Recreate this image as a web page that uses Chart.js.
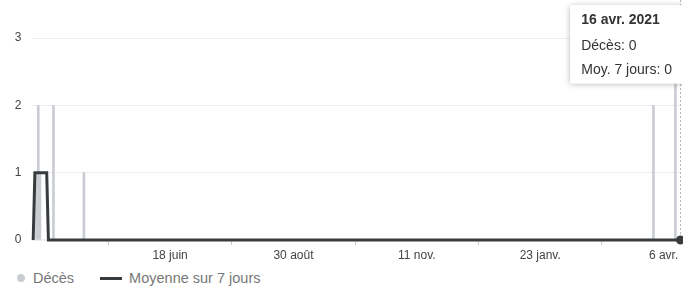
<!DOCTYPE html>
<html lang="fr">
<head>
<meta charset="utf-8">
<script src="https://cdn.jsdelivr.net/npm/chart.js@4.4.1/dist/chart.umd.min.js"></script>
<style>
  body { margin: 0; background: #fff; font-family: "Liberation Sans", Arial, sans-serif; }
  #wrap { position: relative; width: 683px; height: 287px; overflow: hidden; }
  canvas { position: absolute; left: 0; top: 0; }
  #legend { position: absolute; left: 17px; top: 270px; display: flex; align-items: center; font-size: 14.5px; color: #777; white-space: nowrap; }
  #legend .dot { display: inline-block; width: 8px; height: 8px; border-radius: 50%; margin-right: 8px; }
  #legend .bar { display: inline-block; width: 22px; height: 3px; margin-right: 7px; }
  #legend .item { display: flex; align-items: center; margin-right: 26px; }
</style>
</head>
<body>
<div id="wrap">
  <canvas id="myChart" width="683" height="268"></canvas>
  <div id="legend"></div>
</div>
<script>
// jour 0 = 29 mars 2020
const startDate = [2020, 2, 29]
const lastDay = 383
const hoverDay = 383

// décès quotidiens (jours non listés = 0)
const deathDays = [2, 3, 4, 12, 30, 367, 380]
const deathCounts = [1, 2, 1, 2, 1, 2, 3]

// moyenne sur 7 jours (jours non listés = 0)
const avgDays = [1, 2, 3, 4, 5, 6, 7, 8]
const avgValues = [1, 1, 1, 1, 1, 1, 1, 1]

const tickDays = [81, 154, 227, 300, 373]
const tickLabels = ['18 juin', '30 août', '11 nov.', '23 janv.', '6 avr.']
const monthNames = ['janv.', 'févr.', 'mars', 'avr.', 'mai', 'juin', 'juil.', 'août', 'sept.', 'oct.', 'nov.', 'déc.']

const barColor = '#c9cdd2'
const lineColor = '#383b3e'

const deaths = []
const avg = []
for (let d = 0; d <= lastDay; d++) {
  const i = deathDays.indexOf(d)
  const j = avgDays.indexOf(d)
  deaths.push({ x: d, y: i >= 0 ? deathCounts[i] : 0 })
  avg.push({ x: d, y: j >= 0 ? avgValues[j] : 0 })
}

function dayLabel(d) {
  const dt = new Date(startDate[0], startDate[1], startDate[2] + d)
  return dt.getDate() + ' ' + monthNames[dt.getMonth()] + ' ' + dt.getFullYear()
}

Chart.Tooltip.positioners.topRight = function (items) {
  if (!items.length) return false
  return { x: this.chart.width, y: 5 }
}

const hoverLine = {
  id: 'hoverLine',
  beforeDatasetsDraw: chart => {
    const active = chart.tooltip.getActiveElements()
    if (!active.length) return
    const ctx = chart.ctx
    const x = active[0].element.x
    ctx.save()
    ctx.strokeStyle = '#b5b5b5'
    ctx.lineWidth = 1
    ctx.setLineDash([2, 2])
    ctx.beginPath()
    ctx.moveTo(x, 0)
    ctx.lineTo(x, chart.chartArea.bottom)
    ctx.stroke()
    ctx.restore()
  },
  beforeTooltipDraw: (chart, args) => {
    const tt = args.tooltip
    const ctx = chart.ctx
    ctx.save()
    ctx.shadowColor = 'rgba(0,0,0,0.28)'
    ctx.shadowBlur = 6
    ctx.shadowOffsetY = 1
    ctx.fillStyle = '#fff'
    ctx.fillRect(tt.x, tt.y, tt.width, tt.height)
    ctx.restore()
  }
}

const chart = new Chart('myChart', {
  type: 'bar',
  plugins: [hoverLine],
  data: {
    datasets: [
      {
        label: 'Décès',
        data: deaths,
        backgroundColor: barColor,
        hoverBackgroundColor: barColor,
        barThickness: 2,
        order: 1
      },
      {
        type: 'line',
        label: 'Moyenne sur 7 jours',
        data: avg,
        borderColor: lineColor,
        borderWidth: 3,
        pointRadius: 0,
        pointHoverRadius: 4.5,
        pointHoverBorderWidth: 0,
        pointBackgroundColor: lineColor,
        pointHoverBackgroundColor: lineColor,
        tension: 0,
        clip: false,
        order: 0
      }
    ]
  },
  options: {
    responsive: false,
    animation: false,
    layout: { padding: { top: 38, right: 2.5, bottom: 2.6, left: 0 } },
    events: [],
    scales: {
      x: {
        type: 'linear',
        min: -1,
        max: lastDay,
        offset: false,
        border: { display: false },
        grid: { drawOnChartArea: false, drawTicks: true, tickLength: 5, color: '#cccccc' },
        afterBuildTicks: scale => {
          scale.ticks = tickDays.map(v => ({ value: v }))
        },
        ticks: {
          autoSkip: false,
          maxRotation: 0,
          padding: 3,
          color: '#444',
          font: { family: '"Liberation Sans", Arial, sans-serif', size: 12 },
          callback: value => tickLabels[tickDays.indexOf(value)]
        }
      },
      y: {
        min: 0,
        max: 3,
        border: { display: false },
        grid: { drawTicks: false, color: '#ececec' },
        afterFit: scale => { scale.width = 31.5 },
        ticks: {
          stepSize: 1,
          padding: 10,
          color: '#444',
          font: { family: '"Liberation Sans", Arial, sans-serif', size: 12 }
        }
      }
    },
    plugins: {
      legend: { display: false },
      tooltip: {
        position: 'topRight',
        xAlign: 'right',
        yAlign: 'top',
        caretSize: 0,
        caretPadding: 0,
        cornerRadius: 2,
        backgroundColor: '#fff',
        titleColor: '#333',
        bodyColor: '#333',
        displayColors: false,
        padding: { top: 7, bottom: 5, left: 11, right: 11 },
        titleMarginBottom: 9,
        bodySpacing: 7,
        titleFont: { family: '"Liberation Sans", Arial, sans-serif', size: 14, weight: 'bold' },
        bodyFont: { family: '"Liberation Sans", Arial, sans-serif', size: 14 },
        itemSort: (a, b) => a.datasetIndex - b.datasetIndex,
        callbacks: {
          title: items => dayLabel(items[0].parsed.x),
          label: item => (item.datasetIndex === 0 ? 'Décès' : 'Moy. 7 jours') + ': ' + item.parsed.y
        }
      }
    }
  }
})

const active = [
  { datasetIndex: 0, index: hoverDay },
  { datasetIndex: 1, index: hoverDay }
]
chart.setActiveElements(active)
chart.tooltip.setActiveElements(active, { x: 0, y: 0 })
chart.update()

// légende
const legend = document.getElementById('legend')
chart.data.datasets.forEach((ds, i) => {
  const item = document.createElement('span')
  item.className = 'item'
  const sw = document.createElement('span')
  sw.className = i === 0 ? 'dot' : 'bar'
  sw.style.background = i === 0 ? barColor : lineColor
  item.appendChild(sw)
  item.appendChild(document.createTextNode(ds.label))
  legend.appendChild(item)
})
</script>
</body>
</html>
